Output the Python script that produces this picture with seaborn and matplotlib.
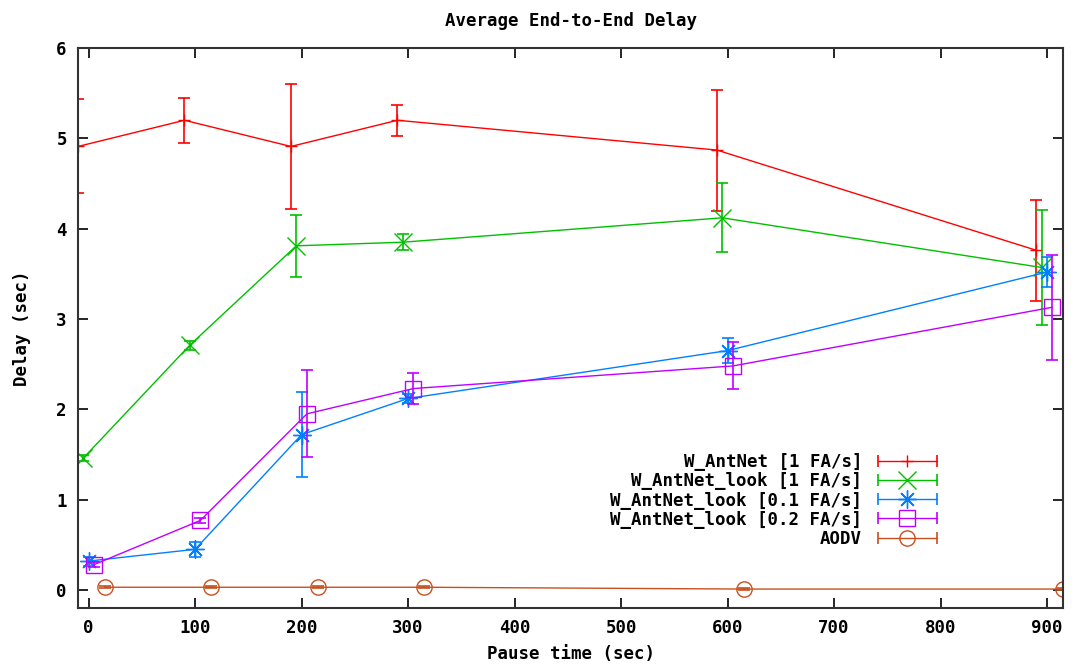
import numpy as np
import pandas as pd
import matplotlib
matplotlib.use("Agg")
import matplotlib.pyplot as plt
import seaborn as sns
from matplotlib.lines import Line2D
from matplotlib.legend_handler import HandlerLine2D, HandlerTuple

# Data
pause = [0, 100, 200, 300, 600, 900]

antnet_1 = [4.91, 5.20, 4.91, 5.20, 4.87, 3.76]
antnet_1_err = [0.52, 0.25, 0.69, 0.17, 0.67, 0.56]

look_1 = [1.46, 2.71, 3.81, 3.85, 4.12, 3.57]
look_1_err = [0.03, 0.05, 0.34, 0.09, 0.38, 0.64]

look_01 = [0.32, 0.45, 1.72, 2.12, 2.65, 3.52]
look_01_err = [0.05, 0.08, 0.47, 0.05, 0.14, 0.17]

look_02 = [0.28, 0.77, 1.95, 2.23, 2.48, 3.13]
look_02_err = [0.03, 0.03, 0.48, 0.17, 0.26, 0.58]

aodv = [0.03, 0.03, 0.03, 0.03, 0.01, 0.01]
aodv_err = [0.01, 0.01, 0.01, 0.01, 0.01, 0.01]

labels = ["W_AntNet [1 FA/s]", "W_AntNet_look [1 FA/s]", "W_AntNet_look [0.1 FA/s]",
          "W_AntNet_look [0.2 FA/s]", "AODV"]

# gnuplot-like style
colors = ["#ff0000", "#00c000", "#0080ff", "#c000ff", "#c8501e"]
markers = ["+", "x", (8, 2, 0), "s", "o"]
msizes = [9, 13, 13, 12, 11]
offsets = [-10, -5, 0, 5, 15]

series = [(antnet_1, antnet_1_err), (look_1, look_1_err), (look_01, look_01_err),
          (look_02, look_02_err), (aodv, aodv_err)]

sns.set_style("ticks")
plt.rcParams["font.family"] = ["DejaVu Sans Mono"]
plt.rcParams["font.weight"] = "bold"
plt.rcParams["text.color"] = "black"
plt.rcParams["axes.labelcolor"] = "black"

FS = 12.5

fig = plt.figure(figsize=(10.74, 6.64), dpi=100)
ax = fig.add_axes([0.0726, 0.0843, 0.9172, 0.8434])

handles = []
handler_map = {}
for (vals, errs), lab, c, m, ms, off in zip(series, labels, colors, markers, msizes, offsets):
    df = pd.DataFrame({"x": np.array(pause) + off, "y": vals})
    sns.lineplot(data=df, x="x", y="y", ax=ax, color=c, lw=1.0, marker=m, markersize=ms,
                 markeredgecolor=c, markerfacecolor="none", markeredgewidth=1.0,
                 errorbar=None, sort=False)
    ax.errorbar(df["x"], df["y"], yerr=errs, fmt="none", ecolor=c, elinewidth=1.2,
                capsize=4, capthick=1.2)
    caps = Line2D([], [], color=c, lw=1.0, marker="|", markersize=8, markeredgewidth=1.2)
    mk = Line2D([], [], color=c, lw=0, marker=m, markersize=ms, markeredgecolor=c,
                markerfacecolor="none", markeredgewidth=1.0)
    handler_map[caps] = HandlerLine2D(numpoints=2)
    handler_map[mk] = HandlerLine2D(numpoints=1)
    handles.append((caps, mk))

handler_map[tuple] = HandlerTuple(ndivide=1, pad=0)

ax.set_xlim(-10, 915)
ax.set_ylim(-0.2, 6)
ax.set_xticks(range(0, 901, 100))
ax.set_yticks(range(0, 7))
ax.tick_params(direction="in", length=7, width=1.2, top=True, right=True,
               labelsize=FS, pad=8, colors="black")
for s in ax.spines.values():
    s.set_linewidth(1.5)
    s.set_color("#333333")

ax.set_title("Average End-to-End Delay", fontsize=FS, fontweight="bold", pad=16)
ax.set_xlabel("Pause time (sec)", fontsize=FS, fontweight="bold", labelpad=6)
ax.set_ylabel("Delay (sec)", fontsize=FS, fontweight="bold", labelpad=18)

leg = ax.legend(handles, labels, handler_map=handler_map, loc="lower right",
                bbox_to_anchor=(0.893, 0.08), frameon=False, markerfirst=False,
                fontsize=FS, handlelength=4.0, labelspacing=0.06, handletextpad=0.6)

fig.savefig("out.png", dpi=100)
